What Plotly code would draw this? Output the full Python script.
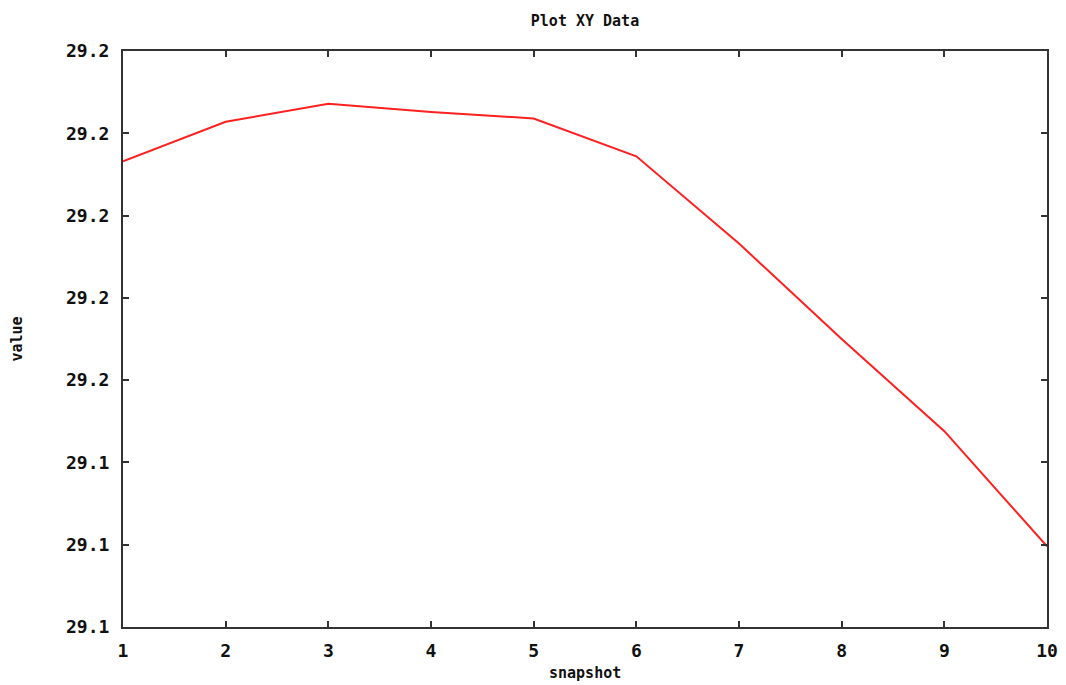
import plotly.graph_objects as go

snapshot = [1, 2, 3, 4, 5, 6, 7, 8, 9, 10]
value = [29.1583, 29.1607, 29.1618, 29.1613, 29.1609, 29.1586, 29.1533, 29.1475, 29.1419, 29.1349]

y_tickvals = [29.130, 29.135, 29.140, 29.145, 29.150, 29.155, 29.160, 29.165]
y_ticktext = ["29.1", "29.1", "29.1", "29.2", "29.2", "29.2", "29.2", "29.2"]
x_tickvals = [1, 2, 3, 4, 5, 6, 7, 8, 9, 10]

font_family = "DejaVu Sans Mono, DejaVu Sans, monospace"

# page body has a default margin; compensate so plot box sits at x 123..1047, y 49..627
W, H = 1058, 677
L, R, T, B = 115, 19, 43, 58
plot_h = H - T - B

fig = go.Figure()
fig.add_trace(go.Scatter(x=snapshot, y=value, mode="lines",
                         line=dict(color="#ff2020", width=2), showlegend=False))

axis_common = dict(
    showline=True, linecolor="#333333", linewidth=2, mirror="ticks",
    ticks="inside", ticklen=6, tickwidth=2, tickcolor="#333333",
    showgrid=False, zeroline=False, automargin=False,
    tickfont=dict(family=font_family, size=18, color="#111111", weight="bold"),
)

title_font = dict(family=font_family, size=15, color="#111111", weight="bold")

fig.update_layout(
    width=W, height=H,
    margin=dict(l=L, r=R, t=T, b=B),
    paper_bgcolor="white", plot_bgcolor="white",
    title=dict(text="Plot XY Data", x=(L + (W - R)) / 2 / W, xanchor="center",
               y=1 - 13 / H, yanchor="middle", font=title_font),
    xaxis=dict(range=[1, 10], tickvals=x_tickvals, ticklabelstandoff=6, **axis_common),
    yaxis=dict(range=[29.13, 29.165], tickvals=y_tickvals, ticktext=y_ticktext,
               ticklabelstandoff=8,
               title=dict(text="value", standoff=40, font=title_font),
               **axis_common),
    annotations=[dict(text="snapshot", xref="paper", yref="paper", x=0.5,
                      y=-46 / plot_h, xanchor="center", yanchor="middle",
                      showarrow=False, font=title_font)],
)

fig.write_html("out.html")
